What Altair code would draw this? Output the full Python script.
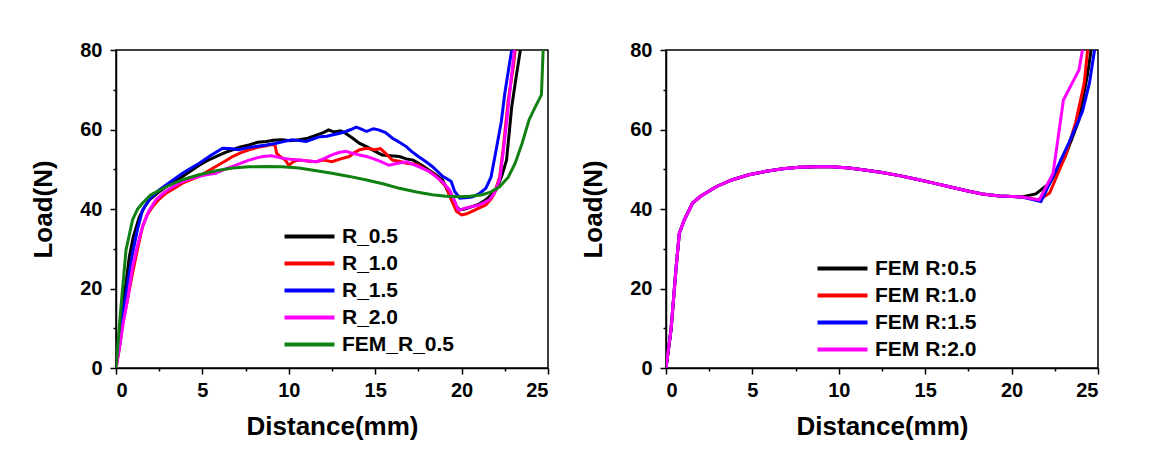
import altair as alt
import pandas as pd

FONT = "Liberation Sans"

# ---------------- tick values ----------------
x_ticks = [0, 2.5, 5, 7.5, 10, 12.5, 15, 17.5, 20, 22.5, 25]
y_ticks = [0, 10, 20, 30, 40, 50, 60, 70, 80]

# ---------------- left panel (experiment + FEM) ----------------
left_names = ["R_0.5", "R_1.0", "R_1.5", "R_2.0", "FEM_R_0.5"]
left_colors = ["#000000", "#ff0000", "#0000ff", "#ff00ff", "#108010"]

r05_x = [0, 0.2, 0.39, 0.6, 0.77, 1.0, 1.35, 1.65, 1.93, 2.4, 2.9, 3.4, 3.85, 4.3, 4.82, 5.3, 5.78, 6.3, 6.75, 7.2,
         7.7, 8.2, 8.7, 9.1, 9.6, 10.1, 10.6, 11.1, 11.6, 12.0, 12.3, 12.6, 13.0, 13.3, 13.7, 14.1, 14.5, 15.0, 15.4,
         15.9, 16.4, 16.8, 17.2, 17.7, 18.1, 18.5, 18.9, 19.2, 19.5, 19.9, 20.2, 20.6, 21.0, 21.4, 21.7, 22.0, 22.3,
         22.6, 22.9, 23.15, 23.4, 23.5]
r05_y = [0, 8, 15.5, 22, 28, 33, 38, 40.5, 42.3, 44, 45.6, 47, 48.2, 49.5, 51, 52.2, 53.2, 54.2, 54.9, 55.6,
         56.1, 56.8, 57, 57.3, 57.4, 57.2, 57.4, 57.8, 58.6, 59.2, 59.9, 59.4, 59.7, 59, 57.8, 56.5, 55.7, 54.5, 53.6,
         53.4, 53.2, 52.6, 52.3, 51, 49.8, 48.6, 47.3, 44.5, 41.5, 39.8, 40, 40.6, 41.2, 42.3, 43.5, 44.8, 48,
         52.3, 65.7, 73, 80, 85]

r10_x = [0, 0.2, 0.39, 0.7, 0.96, 1.25, 1.54, 1.8, 2.12, 2.5, 2.9, 3.4, 3.85, 4.3, 4.82, 5.3, 5.78, 6.3, 6.75, 7.2,
         7.7, 8.2, 8.7, 9.0, 9.2, 9.3, 9.5, 9.8, 10.0, 10.3, 10.6, 11.1, 11.6, 12.0, 12.5, 13.0, 13.5, 13.8, 14.1,
         14.5, 15.0, 15.3, 15.6, 16.0, 16.4, 16.8, 17.2, 17.5, 17.9, 18.3, 18.7, 19.1, 19.4, 19.7, 20.0, 20.3, 20.6,
         21.0, 21.4, 21.7, 21.9, 22.2, 22.4, 22.7, 23.0, 23.1, 23.15]
r10_y = [0, 5, 11.3, 18, 23.9, 30, 35.6, 38.5, 40.6, 42.5, 44, 45.3, 46.5, 47.3, 48.2, 49.5, 50.7, 52, 53.2, 54.1,
         54.9, 55.5, 55.9, 56.2, 56.1, 54, 53.2, 52.3, 51, 52, 52.3, 52.1, 51.9, 52.3, 51.9, 52.6, 53.2, 54.2, 54.9,
         55.3, 54.9, 55.2, 54, 52.3, 52, 51.5, 51.3, 51, 50, 49, 47.5, 45.6, 42.5, 39.4, 38.5, 38.8, 39.4,
         40.2, 41, 42.5, 44, 48, 54.9, 67.4, 76, 80, 85]

r15_x = [0, 0.2, 0.39, 0.7, 0.96, 1.25, 1.54, 2.0, 2.5, 3.2, 3.85, 4.3, 4.82, 5.5, 6.17, 6.6, 7.1, 7.7, 8.2, 8.7,
         9.2, 9.7, 10.2, 10.6, 11.0, 11.4, 11.8, 12.2, 12.5, 12.9, 13.3, 13.6, 13.9, 14.2, 14.5, 14.9, 15.2, 15.6,
         16.0, 16.4, 16.8, 17.1, 17.5, 17.9, 18.3, 18.6, 18.9, 19.2, 19.4, 19.6, 19.9, 20.2, 20.6, 21.0, 21.4, 21.7,
         22.0, 22.3, 22.5, 22.75, 22.9, 22.95]
r15_y = [0, 7, 13, 22, 28.9, 35, 39.8, 42.8, 44.8, 47, 49, 50.2, 51.5, 53.5, 55.3, 55.2, 54.9, 55.5, 55.8, 56.1,
         56.5, 57, 57.4, 57.2, 57, 57.6, 58.2, 58.3, 58.6, 59, 59.5, 60, 60.6, 60.1, 59.5, 60.2, 59.9, 59.2,
         57.8, 56.8, 55.7, 54.5, 53.2, 52, 50.7, 49.5, 48.2, 47.5, 46.9, 44.4, 42.7, 42.8, 43, 43.8, 45.2, 48,
         54.9, 62, 69.1, 76, 80, 85]

r20_x = [0, 0.2, 0.39, 0.7, 0.96, 1.25, 1.54, 1.9, 2.3, 2.8, 3.3, 3.8, 4.3, 4.82, 5.3, 5.78, 6.3, 6.75, 7.2, 7.7,
         8.1, 8.5, 9.0, 9.6, 10.1, 10.6, 11.1, 11.6, 12.0, 12.5, 12.9, 13.3, 13.7, 14.1, 14.5, 14.8, 15.3, 15.8,
         16.3, 16.8, 17.2, 17.7, 18.1, 18.5, 18.9, 19.3, 19.6, 19.8, 20.0, 20.2, 20.6, 21.0, 21.3, 21.6, 21.9,
         22.2, 22.4, 22.6, 22.85, 23.05, 23.1]
r20_y = [0, 5, 10.5, 18, 25.5, 31, 35.6, 39.5, 42.3, 44.2, 45.6, 46.8, 47.6, 48.2, 48.7, 49, 50, 50.7, 51.5, 52.3,
         52.8, 53.2, 53.4, 52.8, 52.5, 52.3, 52.1, 51.9, 52.6, 53.6, 54.2, 54.5, 54, 53.6, 53.2, 52.8, 52, 51,
         51.5, 51.9, 51.2, 50.3, 49.5, 48.2, 46.8, 44.8, 42, 39.8, 39.9, 40.2, 40.6, 41, 41.6, 42.3, 44,
         47.3, 54, 61.6, 72, 80, 85]

fem_left_x = [0, 0.3, 0.58, 0.96, 1.25, 1.54, 2.0, 2.9, 3.8, 4.8, 5.8, 6.75, 7.7, 8.7, 9.6, 10.6, 11.5, 12.5, 13.5,
              14.5, 15.5, 16.4, 17.4, 18.3, 19.1, 19.9, 20.5, 21.2, 21.7, 22.2, 22.7, 23.1, 23.5, 23.9, 24.3, 24.62,
              24.72, 24.74]
fem_left_y = [0, 16, 29.7, 37.3, 40, 41.5, 43.5, 45.6, 47.3, 48.6, 49.6, 50.3, 50.6, 50.7, 50.6, 50.3, 49.7, 49,
              48.2, 47.3, 46.3, 45.2, 44.3, 43.6, 43.2, 43.1, 43.2, 43.6, 44.3, 45.6, 48, 51.5, 56.5, 62.4, 66, 68.7,
              80, 85]

# ---------------- right panel (FEM only) ----------------
right_names = ["FEM R:0.5", "FEM R:1.0", "FEM R:1.5", "FEM R:2.0"]
right_colors = ["#000000", "#ff0000", "#0000ff", "#ff00ff"]

fem_base_x = [0, 0.29, 0.58, 0.77, 1.06, 1.54, 2.0, 2.9, 3.8, 4.8, 5.8, 6.75, 7.7, 8.7, 9.6, 10.6, 11.5, 12.5, 13.5,
              14.5, 15.5, 16.4, 17.4, 18.3, 19.3, 20.6]
fem_base_y = [0, 9.6, 25, 33.9, 37.3, 41.5, 43.2, 45.6, 47.3, 48.6, 49.5, 50.1, 50.5, 50.6, 50.6, 50.3, 49.8, 49.2,
              48.4, 47.5, 46.5, 45.6, 44.6, 43.8, 43.3, 43.0]

tail05_x = [21.4, 22.2, 23.1, 23.9, 24.4, 24.6, 24.65]
tail05_y = [43.8, 46.5, 53.2, 62.4, 74, 80, 85]
tail10_x = [21.6, 22.2, 23.1, 23.7, 24.2, 24.4, 24.45]
tail10_y = [42.3, 44, 53.2, 61.6, 71.6, 80, 85]
tail15_x = [21.7, 22.4, 23.3, 24.1, 24.5, 24.8, 24.85]
tail15_y = [41.9, 48.2, 56.5, 64.5, 71.6, 80, 85]
tail20_x = [21.6, 22.4, 23.0, 23.9, 24.1, 24.15]
tail20_y = [42.3, 49, 67.4, 75, 80, 85]


def to_frame(series):
    rows = []
    for name, xs, ys in series:
        for i, (x, y) in enumerate(zip(xs, ys)):
            rows.append({"series": name, "x": x, "y": y, "i": i})
    return pd.DataFrame(rows)


left_df = to_frame([
    ("R_0.5", r05_x, r05_y),
    ("R_1.0", r10_x, r10_y),
    ("R_1.5", r15_x, r15_y),
    ("R_2.0", r20_x, r20_y),
    ("FEM_R_0.5", fem_left_x, fem_left_y),
])
right_df = to_frame([
    ("FEM R:0.5", fem_base_x + tail05_x, fem_base_y + tail05_y),
    ("FEM R:1.0", fem_base_x + tail10_x, fem_base_y + tail10_y),
    ("FEM R:1.5", fem_base_x + tail15_x, fem_base_y + tail15_y),
    ("FEM R:2.0", fem_base_x + tail20_x, fem_base_y + tail20_y),
])

minor_x = {"condition": {"test": "datum.value % 5 != 0", "value": 3}, "value": 6}
minor_y = {"condition": {"test": "datum.value % 20 != 0", "value": 3}, "value": 6}


def panel(df, names, colors, lx, ly):
    return alt.Chart(df).mark_line(strokeWidth=3, clip=True).encode(
        x=alt.X("x:Q", scale=alt.Scale(domain=[0, 25], nice=False),
                axis=alt.Axis(title="Distance(mm)", values=x_ticks,
                              labelExpr="datum.value % 5 == 0 ? datum.label : ''",
                              tickSize=minor_x, labelPadding=6, titlePadding=13)),
        y=alt.Y("y:Q", scale=alt.Scale(domain=[0, 80], nice=False),
                axis=alt.Axis(title="Load(N)", values=y_ticks,
                              labelExpr="datum.value % 20 == 0 ? datum.label : ''",
                              tickSize=minor_y, labelPadding=8, titlePadding=23)),
        color=alt.Color("series:N", sort=names,
                        scale=alt.Scale(domain=names, range=colors),
                        legend=alt.Legend(title=None, orient="none", legendX=lx, legendY=ly,
                                          symbolType="M-5,0H5", symbolSize=100,
                                          symbolStrokeWidth=4, labelOffset=22,
                                          labelFont=FONT, labelFontSize=21,
                                          labelFontWeight="bold", labelColor="#000000",
                                          rowPadding=5, padding=0)),
        order="i:Q",
    ).properties(width=432, height=318)


left = panel(left_df, left_names, left_colors, 183, 176)
right = panel(right_df, right_names, right_colors, 166, 208)

chart = alt.hconcat(left, right, spacing=30).resolve_scale(
    color="independent"
).resolve_legend(
    color="independent"
).properties(
    padding={"left": 22, "top": 31, "right": 5, "bottom": 5}
).configure_view(
    stroke="#000000", strokeWidth=1.5
).configure_axis(
    grid=False, domainColor="#000000", domainWidth=1.5, tickColor="#000000", tickWidth=1.5,
    labelFont=FONT, labelFontSize=20, labelFontWeight="bold", labelColor="#000000",
    titleFont=FONT, titleFontSize=26, titleFontWeight="bold", titleColor="#000000",
)

chart.save("out.html", embed_options={"renderer": "svg", "actions": False})
